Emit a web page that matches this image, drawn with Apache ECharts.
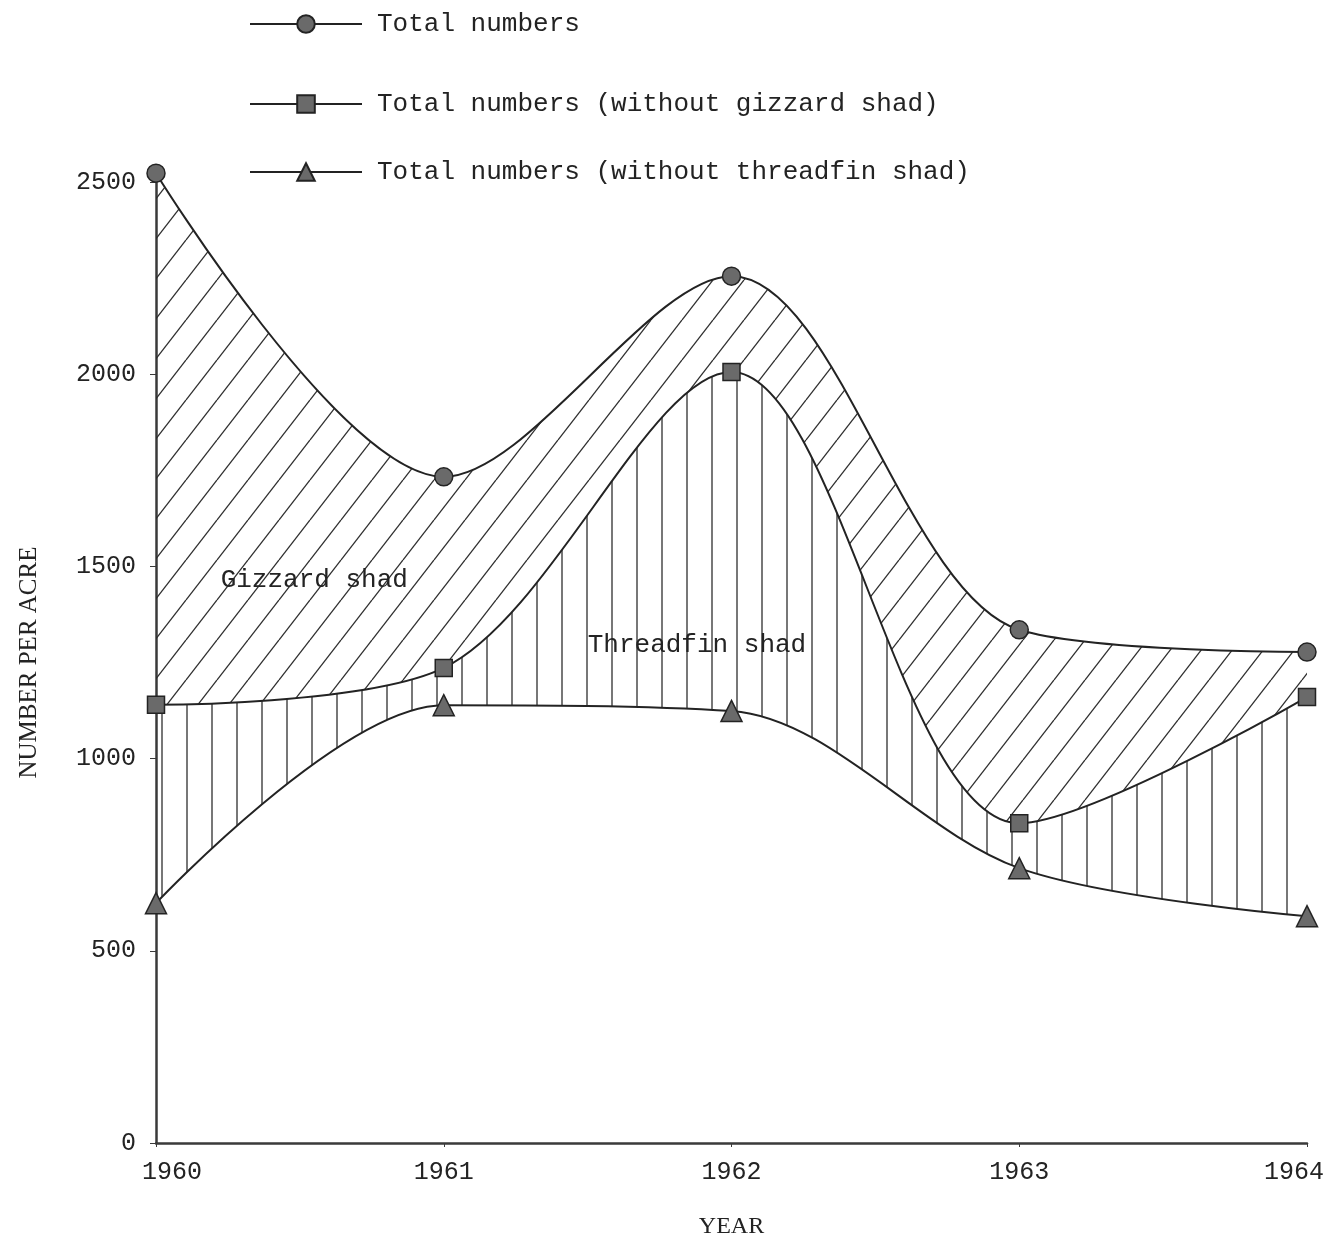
<!DOCTYPE html>
<html>
<head>
<meta charset="utf-8">
<script src="https://cdn.jsdelivr.net/npm/echarts@6/dist/echarts.min.js"></script>
<style>
  html, body { margin: 0; padding: 0; background: #fff; }
  #chart { width: 1330px; height: 1242px; }
</style>
</head>
<body>
<div id="chart"></div>
<script>
// data
const years = ['1960', '1961', '1962', '1963', '1964'];
const totalNumbers = [2523, 1733, 2255, 1335, 1277];
const withoutGizzard = [1140, 1236, 2006, 832, 1160];
const withoutThreadfin = [624, 1139, 1124, 715, 590];
const seriesNames = [
    'Total numbers',
    'Total numbers (without gizzard shad)',
    'Total numbers (without threadfin shad)'
];
const areaNames = ['Gizzard shad', 'Threadfin shad'];
// [year offset from 1960, number per acre]
const areaLabelAt = [[0.55, 1465], [1.88, 1296]];

const mono = "'Liberation Mono', 'DejaVu Sans Mono', monospace";
const serif = "'Liberation Serif', 'DejaVu Serif', serif";
const ink = '#232323';

// hatch patterns
function diagonalHatch() {
    const w = 31, h = 40;
    const c = document.createElement('canvas');
    c.width = w; c.height = h;
    const ctx = c.getContext('2d');
    ctx.strokeStyle = '#2e2e2e';
    ctx.lineWidth = 1.3;
    for (let k = -1; k <= 1; k++) {
        ctx.beginPath();
        ctx.moveTo(k * w, h);
        ctx.lineTo(k * w + w, 0);
        ctx.stroke();
    }
    return c;
}
function verticalHatch() {
    const w = 25, h = 8;
    const c = document.createElement('canvas');
    c.width = w; c.height = h;
    const ctx = c.getContext('2d');
    ctx.strokeStyle = '#2e2e2e';
    ctx.lineWidth = 1.3;
    ctx.beginPath();
    ctx.moveTo(12, 0);
    ctx.lineTo(12, h);
    ctx.stroke();
    return c;
}

// stacked bands: base = without threadfin, then up to without gizzard, then up to total
const band1 = withoutGizzard.map((v, i) => v - withoutThreadfin[i]);
const band2 = totalNumbers.map((v, i) => v - withoutGizzard[i]);

const markStyle = { color: '#6a6a6a', borderColor: ink, borderWidth: 1.5 };

let chart = echarts.init(document.getElementById('chart'));

function legendFor(name, top) {
    return {
        data: [name],
        left: 244,
        top: top,
        itemWidth: 112,
        itemHeight: 22,
        selectedMode: false,
        textStyle: {
            fontFamily: mono,
            fontSize: 26,
            color: ink,
            padding: [0, 0, 0, 10]
        }
    };
}

let option = {
    backgroundColor: '#fff',
    animation: false,
    legend: [
        legendFor(seriesNames[0], 6),
        legendFor(seriesNames[1], 86),
        legendFor(seriesNames[2], 154)
    ],
    grid: { left: 156, right: 23, top: 182, bottom: 99, outerBoundsMode: 'none' },
    xAxis: {
        type: 'category',
        data: years,
        boundaryGap: false,
        name: 'YEAR',
        nameLocation: 'middle',
        nameGap: 72,
        nameTextStyle: { fontFamily: serif, fontSize: 24, color: ink },
        axisLine: { lineStyle: { color: '#3a3a3a', width: 2.5 } },
        axisTick: { length: 4, lineStyle: { color: '#3a3a3a' } },
        splitLine: { show: false },
        axisLabel: {
            fontFamily: mono,
            fontSize: 25,
            color: ink,
            margin: 17,
            // first and last labels sit a little inward, as typed on the original
            formatter: (v, i) => i === 0 ? '{first|' + v + '}' : i === years.length - 1 ? '{last|' + v + '}' : v,
            rich: {
                first: { fontFamily: mono, fontSize: 25, color: ink, padding: [0, 0, 0, 32] },
                last: { fontFamily: mono, fontSize: 25, color: ink, padding: [0, 26, 0, 0] }
            }
        }
    },
    yAxis: {
        type: 'value',
        min: 0,
        max: 2500,
        interval: 500,
        name: 'NUMBER PER ACRE',
        nameLocation: 'middle',
        nameRotate: 90,
        nameGap: 114,
        nameTextStyle: { fontFamily: serif, fontSize: 25, color: ink },
        axisLine: { show: true, lineStyle: { color: '#3a3a3a', width: 2.5 } },
        axisTick: { show: true, length: 6, lineStyle: { color: '#3a3a3a' } },
        splitLine: { show: false },
        axisLabel: {
            formatter: v => String(v),
            fontFamily: mono,
            fontSize: 25,
            color: ink,
            margin: 20
        }
    },
    series: [{
        name: seriesNames[2],
        type: 'line',
        stack: 'fish',
        smooth: 0.32,
        clip: false,
        data: withoutThreadfin,
        symbol: 'triangle',
        symbolSize: 21,
        lineStyle: { color: ink, width: 2 },
        itemStyle: markStyle,
        z: 4
    }, {
        name: seriesNames[1],
        type: 'line',
        stack: 'fish',
        smooth: 0.32,
        clip: false,
        data: band1,
        symbol: 'rect',
        symbolSize: 17,
        lineStyle: { color: ink, width: 2 },
        itemStyle: markStyle,
        areaStyle: { color: { image: verticalHatch(), repeat: 'repeat' }, opacity: 1 },
        z: 3
    }, {
        name: seriesNames[0],
        type: 'line',
        stack: 'fish',
        smooth: 0.32,
        clip: false,
        data: band2,
        symbol: 'circle',
        symbolSize: 18,
        lineStyle: { color: ink, width: 2 },
        itemStyle: markStyle,
        areaStyle: { color: { image: diagonalHatch(), repeat: 'repeat' }, opacity: 1 },
        z: 3
    }]
};

chart.setOption(option);

// area names placed in data coordinates (fractional year between category ticks)
chart.setOption({
    graphic: areaNames.map((t, i) => {
        const at = areaLabelAt[i];
        const i0 = Math.floor(at[0]);
        const f = at[0] - i0;
        const a = chart.convertToPixel({ gridIndex: 0 }, [years[i0], at[1]]);
        const b = chart.convertToPixel({ gridIndex: 0 }, [years[i0 + 1], at[1]]);
        return {
            type: 'text',
            x: a[0] + f * (b[0] - a[0]),
            y: a[1],
            z: 10,
            style: {
                text: t,
                fontFamily: mono,
                fontSize: 26,
                fill: ink,
                align: 'center',
                verticalAlign: 'middle'
            }
        };
    })
});
</script>
</body>
</html>
